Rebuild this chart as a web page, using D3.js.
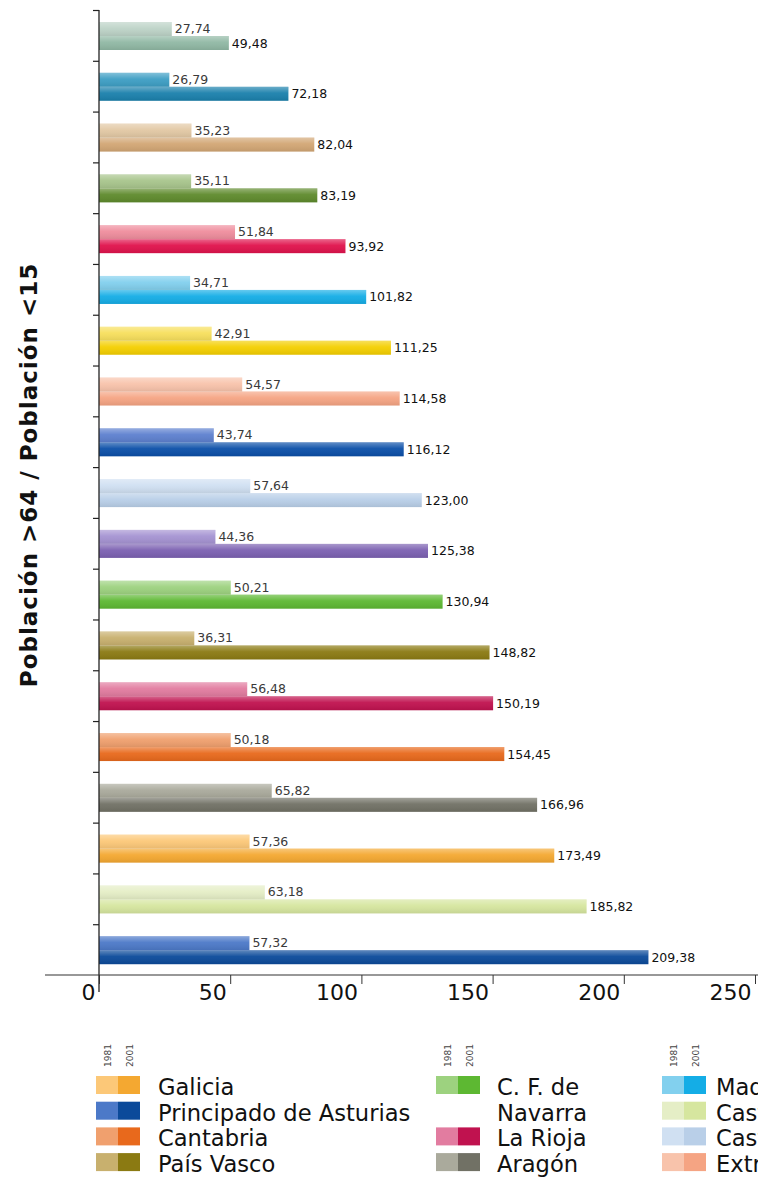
<!DOCTYPE html>
<html>
<head>
<meta charset="utf-8">
<script src="https://cdn.jsdelivr.net/npm/d3@7"></script>
<style>
  html, body { margin: 0; padding: 0; background: #fff; }
  svg { display: block; }
</style>
</head>
<body>
<svg id="chart" width="758" height="1179"></svg>
<script>
// ---------- data (top bar to bottom bar) ----------
const categories = [
  "Ceuta y Melilla", "Canarias", "Región de Murcia", "Andalucía", "Illes Balears",
  "Madrid", "Comunitat Valenciana", "Extremadura", "Cataluña", "Castilla-La Mancha",
  "España", "C. F. de Navarra", "País Vasco", "La Rioja", "Cantabria",
  "Aragón", "Galicia", "Castilla y León", "Principado de Asturias"
];
const values1981 = [27.74, 26.79, 35.23, 35.11, 51.84, 34.71, 42.91, 54.57, 43.74, 57.64,
                    44.36, 50.21, 36.31, 56.48, 50.18, 65.82, 57.36, 63.18, 57.32];
const values2001 = [49.48, 72.18, 82.04, 83.19, 93.92, 101.82, 111.25, 114.58, 116.12, 123.00,
                    125.38, 130.94, 148.82, 150.19, 154.45, 166.96, 173.49, 185.82, 209.38];
const colors1981 = ["#bdd3c7", "#3d9ec4", "#e2c8a4", "#a8c58c", "#ef8d9d", "#82d0ee", "#f7df5c", "#f8c3ab",
                    "#5d80cf", "#d0e0f2", "#a593d2", "#9dd27f", "#c8b06e", "#e27ca0", "#f0a06e",
                    "#aaaa9c", "#fcc878", "#e5eec6", "#4c79c8"];
const colors2001 = ["#90b8a4", "#1a80ac", "#d2a674", "#5e8a2c", "#e0124c", "#14ade6", "#f4cf00", "#f5a483",
                    "#0b4fa8", "#b9cfe8", "#7b60b1", "#5db832", "#8b7a12", "#c0124f", "#e8691c",
                    "#717165", "#f4a831", "#d6e69f", "#0b4a9a"];
const xTicks = [0, 50, 100, 150, 200, 250];
const seriesYears = ["1981", "2001"];
const yTitle = "Población >64 / Población <15";
const legendColumns = [
  ["Galicia", "Principado de Asturias", "Cantabria", "País Vasco"],
  ["C. F. de|Navarra", "La Rioja", "Aragón"],
  ["Madrid", "Castilla y León", "Castilla-La Mancha", "Extremadura"]
];

// ---------- layout ----------
const svg = d3.select("#chart");
const W = 758, H = 1179;
const plotTop = 10, plotBottom = 975, x0 = 99, x1 = 755;
const FONT = "'DejaVu Sans', Verdana, sans-serif";

svg.append("rect").attr("width", W).attr("height", H).attr("fill", "#fff");

const x = d3.scaleLinear().domain([0, 250]).range([x0, x1]);
const y = d3.scaleBand().domain(categories).range([plotTop, plotBottom]);
const yIdx = d3.scaleLinear().domain([0, categories.length]).range([plotTop, plotBottom]);

const locale = d3.formatLocale({decimal: ",", thousands: ".", grouping: [3], currency: ["", "€"]});
const fmt = locale.format(".2f");

// gradient overlay for bars
const defs = svg.append("defs");
const g1 = defs.append("linearGradient").attr("id", "shine").attr("x1", 0).attr("x2", 0).attr("y1", 0).attr("y2", 1);
g1.append("stop").attr("offset", "0%").attr("stop-color", "#fff").attr("stop-opacity", 0.35);
g1.append("stop").attr("offset", "45%").attr("stop-color", "#fff").attr("stop-opacity", 0.05);
g1.append("stop").attr("offset", "100%").attr("stop-color", "#000").attr("stop-opacity", 0.08);

const barH = 14, off1 = 12, off2 = 26;
const rows = categories.map((c, i) => ({c, i, v1: values1981[i], v2: values2001[i], c1: colors1981[i], c2: colors2001[i]}));

const bars = svg.append("g");
// 2001 bars
bars.selectAll("rect.b2").data(rows).join("rect").attr("class", "b2")
  .attr("x", x(0)).attr("y", d => y(d.c) + off2)
  .attr("width", d => x(d.v2) - x(0)).attr("height", barH).attr("fill", d => d.c2);
bars.selectAll("rect.s2").data(rows).join("rect").attr("class", "s2")
  .attr("x", x(0)).attr("y", d => y(d.c) + off2)
  .attr("width", d => x(d.v2) - x(0)).attr("height", barH).attr("fill", "url(#shine)");
// 1981 bars
bars.selectAll("rect.b1").data(rows).join("rect").attr("class", "b1")
  .attr("x", x(0)).attr("y", d => y(d.c) + off1)
  .attr("width", d => x(d.v1) - x(0)).attr("height", barH).attr("fill", d => d.c1);
bars.selectAll("rect.s1").data(rows).join("rect").attr("class", "s1")
  .attr("x", x(0)).attr("y", d => y(d.c) + off1)
  .attr("width", d => x(d.v1) - x(0)).attr("height", barH).attr("fill", "url(#shine)");

// value labels
const labels = svg.append("g").attr("font-family", FONT).attr("font-size", 12.5);
labels.selectAll("text.l1").data(rows).join("text").attr("class", "l1")
  .attr("x", d => x(d.v1) + 3).attr("y", d => y(d.c) + off1 + barH / 2 + 4)
  .attr("fill", "#3a3a3a").text(d => fmt(d.v1));
labels.selectAll("text.l2").data(rows).join("text").attr("class", "l2")
  .attr("x", d => x(d.v2) + 3).attr("y", d => y(d.c) + off2 + barH / 2 + 4.5)
  .attr("fill", "#111").text(d => fmt(d.v2));

// y axis (ticks at band boundaries)
const yAxis = d3.axisLeft(yIdx).tickValues(d3.range(0, categories.length)).tickSizeInner(6).tickSizeOuter(0).tickFormat("");
const gy = svg.append("g").attr("transform", `translate(${x0},0)`).call(yAxis);
gy.select(".domain").remove();
gy.selectAll(".tick line").attr("stroke", "#222").attr("stroke-width", 1.2);
svg.append("line").attr("x1", x0).attr("x2", x0).attr("y1", plotTop).attr("y2", plotBottom + 17)
  .attr("stroke", "#222").attr("stroke-width", 1.3);

// x axis
const xAxis = d3.axisBottom(x).tickValues(xTicks).tickSizeInner(9).tickSizeOuter(0).tickFormat(d3.format("d"));
const gx = svg.append("g").attr("transform", `translate(0,${plotBottom})`).call(xAxis);
gx.select(".domain").remove();
gx.selectAll(".tick line").attr("stroke", "#333").attr("stroke-width", 1);
gx.selectAll(".tick text").attr("font-family", FONT).attr("font-size", 22).attr("fill", "#111")
  .attr("text-anchor", "end").attr("x", -4).attr("y", 25).attr("dy", 0);
svg.append("line").attr("x1", 45).attr("x2", W).attr("y1", plotBottom).attr("y2", plotBottom)
  .attr("stroke", "#333").attr("stroke-width", 1.2);

// y title
svg.append("text").attr("transform", `translate(37,475) rotate(-90)`)
  .attr("text-anchor", "middle").attr("font-family", FONT).attr("font-weight", "bold")
  .attr("font-size", 23).attr("letter-spacing", 1).attr("fill", "#111").text(yTitle);

// legend
const colorByName = new Map(categories.map((c, i) => [c, [colors1981[i], colors2001[i]]]));
const legendX = [{sx: 96, tx: 158}, {sx: 436, tx: 497}, {sx: 662, tx: 716}];
const swW = 22, swH = 18, rowStep = 25.7, firstBaseline = 1095;
const legend = svg.append("g").attr("font-family", FONT);
legendColumns.forEach((items, ci) => {
  const pos = legendX[ci];
  // year headers
  seriesYears.forEach((yr, k) => {
    legend.append("text")
      .attr("transform", `translate(${pos.sx + swW * k + swW / 2 + 4},${firstBaseline - 28}) rotate(-90)`)
      .attr("font-size", 9).attr("fill", "#444").text(yr);
  });
  let line = 0;
  items.forEach(item => {
    const parts = item.split("|");
    const name = parts.join(" ");
    const cols = colorByName.get(name);
    const base = firstBaseline + line * rowStep;
    cols.forEach((col, k) => {
      legend.append("rect").attr("x", pos.sx + swW * k).attr("y", base - 19)
        .attr("width", swW).attr("height", swH).attr("fill", col);
    });
    const t = legend.append("text").attr("font-size", 22.6).attr("fill", "#111");
    parts.forEach((p, pi) => {
      t.append("tspan").attr("x", pos.tx).attr("y", base + pi * rowStep).text(p);
    });
    line += parts.length;
  });
});
</script>
</body>
</html>
